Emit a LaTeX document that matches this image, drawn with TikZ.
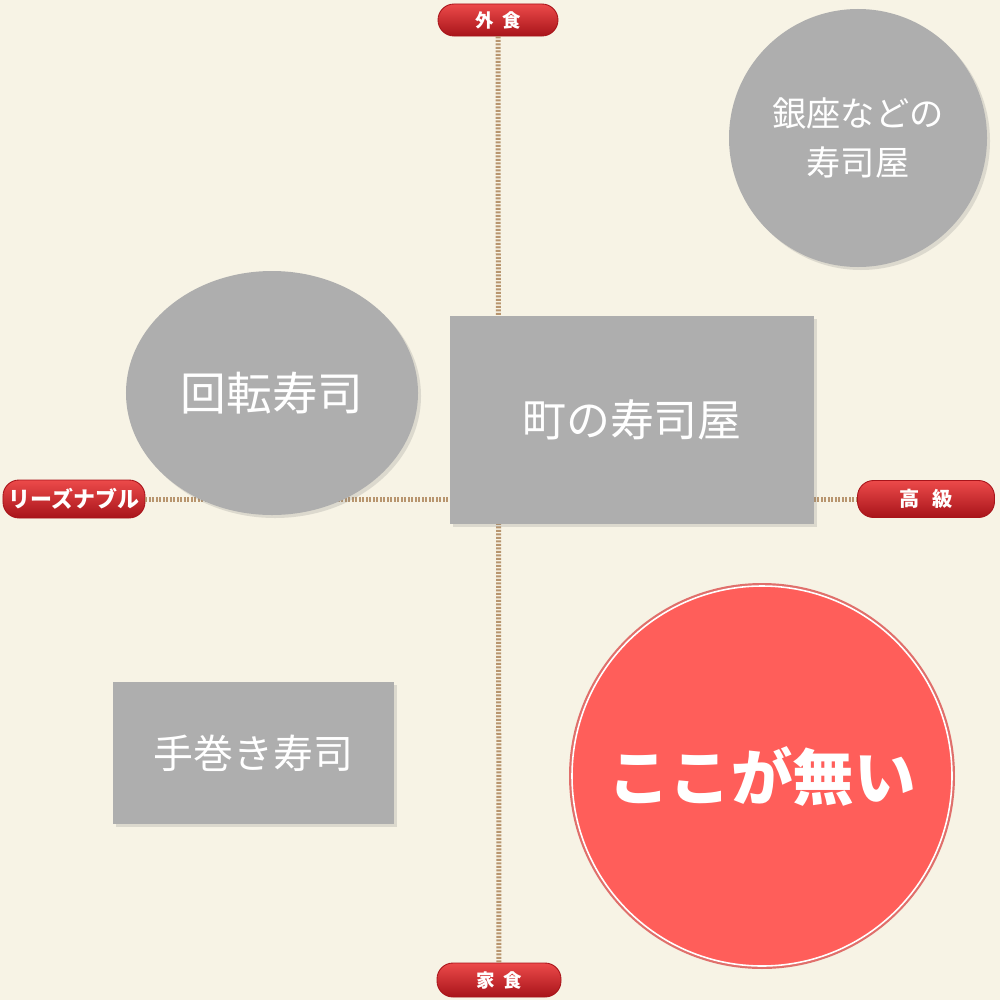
\documentclass[tikz,border=0pt]{standalone}
\usepackage{fontspec}
\newfontfamily\jp{Noto Sans CJK JP}
\usetikzlibrary{shapes.geometric,shadows}
\definecolor{bgcream}{HTML}{F7F3E5}
\definecolor{shopgray}{HTML}{AEAEAE}
\definecolor{axistan}{HTML}{B8956E}
\definecolor{pilltop}{HTML}{EC4A4A}
\definecolor{pillmid}{HTML}{D42427}
\definecolor{pilldark}{HTML}{A8141A}
\definecolor{gapred}{HTML}{FF5E5A}
\definecolor{gapglow}{HTML}{D94343}
\tikzset{
  shop/.style={fill=shopgray, text=white, inner sep=0pt,
    drop shadow={opacity=0.22, shadow xshift=0.6mm, shadow yshift=-0.6mm}},
  pill/.style={draw=pilldark, line width=0.5pt, rounded corners=3.2mm,
    top color=pilltop, middle color=pillmid, bottom color=pilldark, text=white, inner sep=0pt,
    font=\jp\bfseries},
  axisline/.style={axistan, line width=1mm, dash pattern=on 0.4mm off 0.3mm},
}
\begin{document}
\begin{tikzpicture}[x=0.2mm, y=-0.2mm]
    \fill[bgcream] (0,0) rectangle (1000,1000);
    \useasboundingbox (0,0) rectangle (1000,1000);

    \node[pill, minimum width=24mm, minimum height=6.4mm, font=\jp\bfseries\fontsize{10.5}{11}\selectfont] (eatout) at (498,20) {外\hspace{0.45em}食};
    \node[pill, minimum width=24.8mm, minimum height=6.8mm, font=\jp\bfseries\fontsize{10.5}{11}\selectfont] (eathome) at (499,980) {家\hspace{0.45em}食};
    \node[pill, minimum width=28.4mm, minimum height=7.6mm, font=\jp\bfseries\fontsize{12.5}{13}\selectfont] (cheap) at (74,499) {リーズナブル};
    \node[pill, minimum width=27.4mm, minimum height=7.4mm, font=\jp\bfseries\fontsize{11.5}{12}\selectfont] (luxury) at (926,499) {高\hspace{0.6em}級};

    \draw[axisline] (eatout) -- (eathome);
    \draw[axisline] (cheap) -- (luxury);

    \node[shop, circle, minimum size=51.6mm, align=center, font=\jp\fontsize{19.5}{28}\selectfont] (ginza) at (858,138) {銀座などの\\寿司屋};
    \node[shop, ellipse, minimum width=58.4mm, minimum height=48.8mm, font=\jp\fontsize{26}{30}\selectfont] (kaiten) at (272,393) {回転寿司};
    \node[shop, rectangle, minimum width=72.8mm, minimum height=41.6mm, font=\jp\fontsize{25}{30}\selectfont] (machi) at (632,420) {町の寿司屋};
    \node[shop, rectangle, minimum width=56.2mm, minimum height=28.4mm, font=\jp\fontsize{22.7}{27}\selectfont] (temaki) at (253.5,753) {手巻き寿司};

    \node[circle, minimum size=76mm, inner sep=0pt, fill=gapred, draw=white, line width=0.9pt,
      preaction={draw=gapglow, draw opacity=0.75, line width=3.4pt},
      text=white, font=\jp\bfseries\fontsize{35}{40}\selectfont] (gap) at (762,776) {ここが無い};
\end{tikzpicture}
\end{document}
